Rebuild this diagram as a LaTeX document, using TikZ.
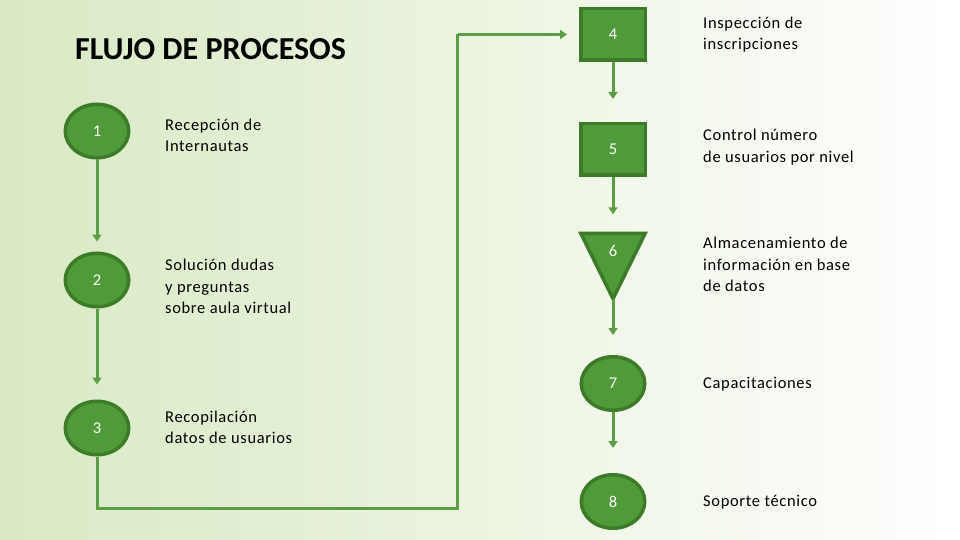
\documentclass[tikz,border=0pt]{standalone}
\usepackage{fontspec}
\setmainfont{Carlito}
\newfontfamily\lblfont{Carlito}[LetterSpace=4]
\usetikzlibrary{arrows.meta,shapes.geometric,calc}
\definecolor{bgL}{HTML}{D8E9C3}
\definecolor{bgM}{HTML}{EFF5E7}
\definecolor{shapeFill}{HTML}{509B39}
\definecolor{shapeLine}{HTML}{3D7B29}
\definecolor{flowCol}{HTML}{5B9E45}
\tikzset{
  circ/.style={ellipse,draw=shapeLine,fill=shapeFill,line width=3.5pt,minimum width=63.5pt,minimum height=53.5pt,inner sep=0pt,text=white,font=\fontsize{16.5}{18}\selectfont},
  sq/.style={rectangle,draw=shapeLine,fill=shapeFill,line width=3.5pt,minimum width=64.5pt,minimum height=51.5pt,inner sep=0pt,text=white,font=\fontsize{16.5}{18}\selectfont},
  trifrm/.style={rectangle,minimum width=64pt,minimum height=65pt,inner sep=0pt},
  trishape/.style={draw=shapeLine,fill=shapeFill,line width=3.5pt,line join=miter},
  numtxt/.style={text=white,font=\fontsize{16.5}{18}\selectfont,inner sep=0pt},
  lbl/.style={anchor=west,align=left,inner sep=0pt,font=\lblfont\fontsize{16.5}{21.3}\selectfont},
  flow/.style={draw=flowCol,line width=3pt,-{Triangle[width=9pt,length=7pt]}},
  flowline/.style={draw=flowCol,line width=3pt}
}
\begin{document}
\begin{tikzpicture}[x=1pt,y=-1pt]
\useasboundingbox (0,0) rectangle (960,540);
\shade[left color=bgL,middle color=bgM,right color=white] (0,0) rectangle (960,540);

% title
\node[anchor=base west,inner sep=0pt,font=\fontsize{32}{36}\bfseries] (title) at (75,60) {FLUJO DE PROCESOS};

% left column
\node[circ] (c1) at (97,131) {1};
\node[circ] (c2) at (97,280) {2};
\node[circ] (c3) at (97,428) {3};

\node[lbl] (l1) at (165,135) {Recepción de\\Internautas};
\node[lbl] (l2) at (165,286.5) {Solución dudas\\y preguntas\\sobre aula virtual};
\node[lbl] (l3) at (165,427) {Recopilación\\datos de usuarios};

% right column
\node[sq] (s4) at (613,34.5) {4};
\node[sq] (s5) at (613,149.5) {5};
\node[trifrm] (t6) at (613,266) {};
\filldraw[trishape] (t6.north west) -- (t6.north east) -- (t6.south) -- cycle;
\node[numtxt] (n6) at (613,251) {6};
\node[circ] (c7) at (613,383.5) {7};
\node[circ] (c8) at (613,501.5) {8};

\node[lbl] (l4) at (703,34.5) {Inspección de\\inscripciones};
\node[lbl] (l5) at (703,147) {Control número\\de usuarios por nivel};
\node[lbl] (l6) at (703,264.5) {Almacenamiento de\\información en base\\de datos};
\node[lbl] (l7) at (703,384) {Capacitaciones};
\node[lbl] (l8) at (703,502) {Soporte técnico};

% connectors
\draw[flow,shorten >=10pt] (c1) -- (c2);
\draw[flow,shorten >=15pt] (c2) -- (c3);

\coordinate (bendL) at (97,508);
\coordinate (bendR) at (457.5,508);
\coordinate (topR) at ($(bendR |- s4)$);
\draw[flowline,line join=miter] (c3.south) -- (bendL) -- (bendR) -- (topR);
\draw[flow] (topR) -- ($(s4.west)+(-12,0)$);

\draw[flow,shorten >=23pt] (s4) -- (s5);
\draw[flow,shorten >=19pt] (s5) -- (t6.north);
\draw[flow,shorten >=20pt] (t6.south) -- (c7);
\draw[flow,shorten >=25pt] (c7) -- (c8);
\end{tikzpicture}
\end{document}
